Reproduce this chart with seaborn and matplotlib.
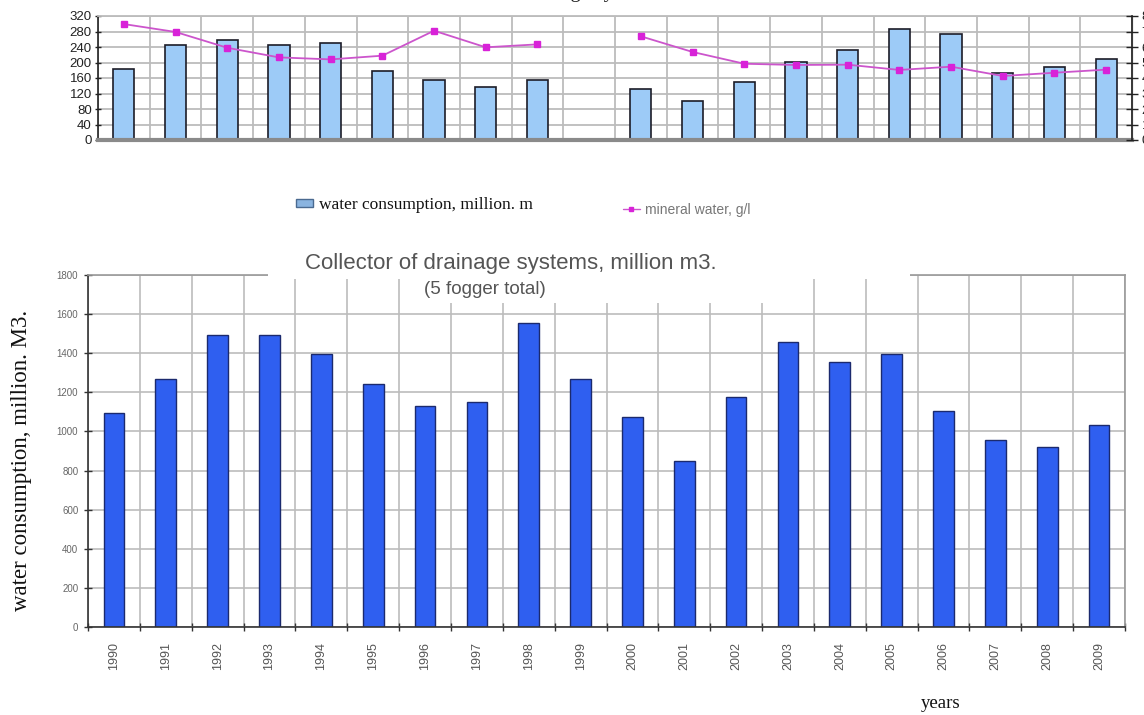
import numpy as np
import pandas as pd
import matplotlib
matplotlib.use("Agg")
import matplotlib.pyplot as plt
from matplotlib.patches import Patch, Rectangle
from matplotlib.lines import Line2D
import seaborn as sns

years = [str(y) for y in range(1990, 2010)]

# upper panel: water consumption (million m3) and water mineralisation (g/l)
consumption = [183, 246, 257, 246, 250, 178, 155, 136, 155, np.nan,
               131, 101, 150, 201, 232, 286, 274, 174, 188, 209]
mineral = [7.48, 6.97, 5.95, 5.33, 5.20, 5.44, 7.05, 5.98, 6.17, np.nan,
           6.69, 5.68, 4.92, 4.84, 4.86, 4.52, 4.73, 4.13, 4.34, 4.54]

# lower panel: collector-drainage runoff, million m3
drainage = [1094, 1267, 1492, 1492, 1397, 1242, 1129, 1152, 1553, 1267,
            1072, 848, 1174, 1455, 1356, 1395, 1102, 956, 922, 1034]

top_ticks = list(range(0, 321, 40))
right_ticks = list(range(0, 9))
bottom_ticks = list(range(0, 1801, 200))

sns.set_theme(style="white")
plt.rcParams['font.family'] = ['Liberation Sans', 'DejaVu Sans']

W, H = 1144, 715
fig = plt.figure(figsize=(W / 100, H / 100), dpi=100)
fig.patch.set_facecolor("white")


def fx(px):
    return px / W


def fy(py):
    return 1 - py / H


GRID = "#bcbcbc"
n = len(years)
slots = np.arange(-0.5, n, 1)

# ---------------- upper panel ----------------
ax1 = fig.add_axes([fx(98), fy(140), fx(1132) - fx(98), fy(16) - fy(140)])
df_top = pd.DataFrame({"year": years, "consumption": consumption})
sns.barplot(data=df_top, x="year", y="consumption", order=years, ax=ax1,
            color="#9dcbf7", edgecolor="#1c1c28", linewidth=1.2, width=0.41,
            saturation=1, errorbar=None)
ax1.set_xlim(-0.5, n - 0.5)
ax1.set_ylim(0, 320)
ax1.set_yticks(top_ticks)
ax1.set_xticks(slots)
ax1.set_xticklabels([])
ax1.set_xlabel("")
ax1.set_ylabel("")
ax1.set_axisbelow(True)
ax1.grid(True, color=GRID, lw=1.3)
ax1.tick_params(axis="x", length=0)
ax1.tick_params(axis="y", left=True, length=5, direction="inout", width=1,
                color="#222", labelsize=9.5, labelcolor="#222", pad=2)
for side, c, w in [("left", "#222", 1.2), ("bottom", "#8a8a8a", 3),
                   ("top", GRID, 1.3), ("right", GRID, 1.0)]:
    ax1.spines[side].set_color(c)
    ax1.spines[side].set_linewidth(w)

ax2 = ax1.twinx()
ax2.plot(np.arange(n), mineral, color="#cc55cc", lw=1.3, marker="s", ms=5,
         mfc="#d822d8", mec="#d822d8")
ax2.set_ylim(0, 8)
ax2.set_yticks(right_ticks)
ax2.grid(False)
for side in ["left", "bottom", "top"]:
    ax2.spines[side].set_visible(False)
ax2.spines["right"].set_color("#222")
ax2.spines["right"].set_linewidth(1.2)
ax2.tick_params(axis="y", right=True, length=8, direction="inout", width=1,
                color="#222", labelsize=9.5, labelcolor="#222", pad=3)

# title line of the upper panel, running off the top edge
fig.text(fx(590), fy(-8), "drainage systems", family="Liberation Serif",
         fontsize=15, color="#222", ha="center", va="center")

# ---------------- legend ----------------
h1 = Patch(facecolor="#8ab4e0", edgecolor="#4a6a90")
leg1 = fig.legend(handles=[h1], labels=["water consumption, million. m"],
                  loc="center left", bbox_to_anchor=(fx(296), fy(205)),
                  frameon=False, borderpad=0, borderaxespad=0,
                  handlelength=1.0, handleheight=0.35, handletextpad=0.3,
                  prop={"family": "Liberation Serif", "size": 12.5},
                  labelcolor="#111")
h2 = Line2D([], [], color="#cc55cc", lw=1, marker="s", ms=3.5,
            mfc="#d822d8", mec="#d822d8")
leg2 = fig.legend(handles=[h2], labels=["mineral water, g/l"],
                  loc="center left", bbox_to_anchor=(fx(623), fy(210)),
                  frameon=False, borderpad=0, borderaxespad=0,
                  handlelength=1.2, handletextpad=0.4,
                  prop={"family": "Liberation Sans", "size": 10},
                  labelcolor="#777")

# ---------------- lower panel ----------------
ax3 = fig.add_axes([fx(88), fy(627), fx(1125) - fx(88), fy(275) - fy(627)])
df_bot = pd.DataFrame({"year": years, "drainage": drainage})
sns.barplot(data=df_bot, x="year", y="drainage", order=years, ax=ax3,
            color="#2f5ff0", edgecolor="#1b2a6e", linewidth=1.0, width=0.4,
            saturation=1, errorbar=None)
ax3.set_xlim(-0.5, n - 0.5)
ax3.set_ylim(0, 1800)
ax3.set_yticks(bottom_ticks)
ax3.set_xticks(range(n))
ax3.set_xticklabels(years, rotation=90, fontsize=9, color="#555")
ax3.set_xticks(slots, minor=True)
ax3.set_xlabel("")
ax3.set_ylabel("")
ax3.set_axisbelow(True)
ax3.grid(False)
ax3.grid(True, which="minor", axis="x", color=GRID, lw=1.2)
ax3.grid(True, which="major", axis="y", color=GRID, lw=1.2)
ax3.tick_params(axis="x", which="major", length=0, pad=11)
ax3.tick_params(axis="x", which="minor", bottom=True, length=6,
                direction="inout", color="#333", width=1)
ax3.tick_params(axis="y", left=True, length=6, direction="inout", color="#333",
                width=1, labelsize=7, labelcolor="#666", pad=4)
for side, c, w in [("left", "#333", 1.2), ("bottom", "#333", 1.2),
                   ("top", "#9a9a9a", 1.2), ("right", "#9a9a9a", 1.2)]:
    ax3.spines[side].set_color(c)
    ax3.spines[side].set_linewidth(w)

# white backing behind the title block
fig.add_artist(Rectangle((fx(268), fy(279)), fx(910) - fx(268), fy(248) - fy(279),
                         transform=fig.transFigure, facecolor="white",
                         edgecolor="none", zorder=1))
fig.add_artist(Rectangle((fx(420), fy(303)), fx(790) - fx(420), fy(278) - fy(303),
                         transform=fig.transFigure, facecolor="white",
                         edgecolor="none", zorder=1))

fig.text(fx(511), fy(263), "Collector of drainage systems, million m3.",
         fontsize=16, color="#555", ha="center", va="center", zorder=3)
fig.text(fx(485), fy(290), "(5 fogger total)", fontsize=13.5, color="#555",
         ha="center", va="center", zorder=3)

fig.text(fx(22), fy(460), "water consumption, million. M3.",
         family="Liberation Serif", fontsize=16.5, color="#111",
         rotation=90, ha="center", va="center")
fig.text(fx(941), fy(704), "years", family="Liberation Serif", fontsize=13.5,
         color="#111", ha="center", va="center")

fig.savefig("out.png", dpi=100)
